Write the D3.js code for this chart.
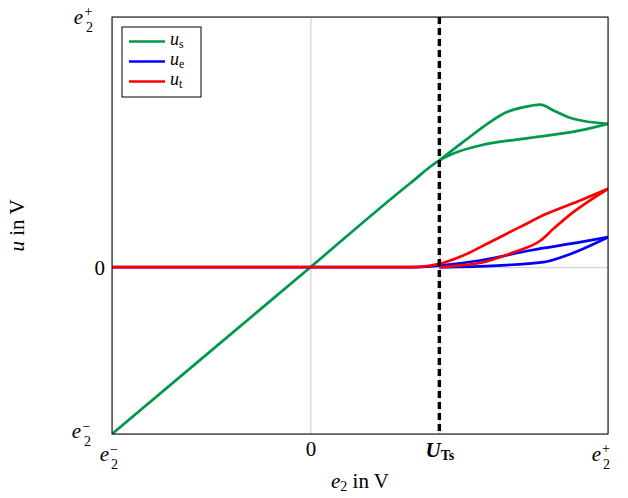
<!DOCTYPE html>
<html>
<head>
<meta charset="utf-8">
<script src="https://cdn.jsdelivr.net/npm/d3@7"></script>
<style>
  body { margin: 0; background: #fff; }
  text { font-family: "Liberation Serif", "DejaVu Serif", serif; fill: #000; }
</style>
</head>
<body>
<div id="chart-container"></div>
<script>
(function () {
    'use strict';

    // tick positions (in data units, e2- = -2, e2+ = 3)
    var xTicks = [-2, 0, 1.3, 3];
    var yTicks = [-2, 0, 3];
    var uTs = 1.3;

    // u_s
    var greenMainX = [-2, 0, 1.0, 1.3, 1.48, 1.71, 2.21, 2.72, 3.0];
    var greenMainY = [-2, 0, 1.0, 1.28, 1.38, 1.46, 1.55, 1.64, 1.72];
    var greenUpX = [1.3, 1.56, 1.81, 1.98, 2.15, 2.32, 2.45, 2.65, 3.0];
    var greenUpY = [1.28, 1.52, 1.74, 1.86, 1.92, 1.95, 1.88, 1.78, 1.72];

    // u_e
    var blueMainX = [-2, 0, 1.0, 1.3, 1.71, 2.21, 2.72, 3.0];
    var blueMainY = [0, 0, 0, 0.02, 0.08, 0.20, 0.30, 0.36];
    var blueLowX = [1.3, 1.88, 2.35, 2.58, 3.0];
    var blueLowY = [0, 0.02, 0.06, 0.14, 0.36];

    // u_t
    var redMainX = [-2, 0, 0.9, 1.1, 1.3, 1.54, 1.81, 2.11, 2.38, 2.72, 3.0];
    var redMainY = [0, 0, 0, 0.005, 0.04, 0.14, 0.30, 0.48, 0.64, 0.80, 0.94];
    var redLowX = [1.3, 1.5, 1.71, 2.05, 2.32, 2.45, 2.65, 3.0];
    var redLowY = [0, 0.02, 0.05, 0.18, 0.32, 0.46, 0.66, 0.94];

    var width = 628;
    var height = 498;
    var margin = {top: 17, right: 20, bottom: 64, left: 112};
    var w = width - margin.left - margin.right;
    var h = height - margin.top - margin.bottom;

    var green = '#00994c';
    var blue = '#0000ff';
    var red = '#ff0000';
    var fs = 21;
    var ss = 14;

    var x = d3.scaleLinear().domain([-2, 3]).range([0, w]);
    var y = d3.scaleLinear().domain([-2, 3]).range([h, 0]);

    var svg = d3.select('#chart-container')
        .append('svg')
        .attr('width', width)
        .attr('height', height);

    var g = svg.append('g')
        .attr('transform', 'translate(' + margin.left + ',' + margin.top + ')');

    // grid
    g.append('g')
        .attr('transform', 'translate(0,' + h + ')')
        .call(d3.axisBottom(x).tickValues(xTicks).tickSize(-h).tickFormat(''))
        .call(function (a) {
            a.select('.domain').remove();
            a.selectAll('line').attr('stroke', '#c8c8c8').attr('stroke-width', 1);
        });
    g.append('g')
        .call(d3.axisLeft(y).tickValues(yTicks).tickSize(-w).tickFormat(''))
        .call(function (a) {
            a.select('.domain').remove();
            a.selectAll('line').attr('stroke', '#c8c8c8').attr('stroke-width', 1);
        });

    function zip(xs, ys) {
        return xs.map(function (v, i) { return [v, ys[i]]; });
    }

    var line = d3.line()
        .x(function (d) { return x(d[0]); })
        .y(function (d) { return y(d[1]); })
        .curve(d3.curveMonotoneX);

    var series = [
        {color: green, parts: [zip(greenMainX, greenMainY), zip(greenUpX, greenUpY)]},
        {color: blue, parts: [zip(blueMainX, blueMainY), zip(blueLowX, blueLowY)]},
        {color: red, parts: [zip(redMainX, redMainY), zip(redLowX, redLowY)]}
    ];

    g.append('defs').append('clipPath').attr('id', 'clip')
        .append('rect').attr('width', w).attr('height', h);

    var plot = g.append('g').attr('clip-path', 'url(#clip)');
    series.forEach(function (s) {
        s.parts.forEach(function (p) {
            plot.append('path')
                .attr('d', line(p))
                .attr('fill', 'none')
                .attr('stroke', s.color)
                .attr('stroke-width', 2.7)
                .attr('stroke-linejoin', 'round');
        });
    });

    // threshold line
    g.append('line')
        .attr('x1', x(uTs)).attr('x2', x(uTs))
        .attr('y1', 0).attr('y2', h)
        .attr('stroke', '#000')
        .attr('stroke-width', 3.4)
        .attr('stroke-dasharray', '7,4');

    // frame
    g.append('rect')
        .attr('width', w).attr('height', h)
        .attr('fill', 'none')
        .attr('stroke', '#000')
        .attr('stroke-width', 1);

    // e2 with stacked sub/superscript
    function e2(sel, sign, anchor) {
        var t = sel.append('g');
        var offs = anchor === 'end' ? -21 : (anchor === 'middle' ? -10 : 0);
        t.append('text').attr('x', offs).attr('y', 0)
            .attr('font-size', fs).attr('font-style', 'italic').text('e');
        t.append('text').attr('x', offs + 9.5).attr('y', sign === '+' ? -8 : -7)
            .attr('font-size', ss).text(sign === '+' ? '+' : '\u2212');
        t.append('text').attr('x', offs + 10).attr('y', 8)
            .attr('font-size', ss).text('2');
        return t;
    }

    // x axis labels
    var xAxis = g.append('g')
        .attr('transform', 'translate(0,' + h + ')')
        .call(d3.axisBottom(x).tickValues(xTicks).tickSize(0).tickFormat(''));
    xAxis.select('.domain').remove();
    xAxis.selectAll('.tick').each(function (d) {
        var t = d3.select(this);
        t.select('text').remove();
        if (d === -2) {
            e2(t, '\u2212', 'middle').attr('transform', 'translate(2,27)');
        } else if (d === 3) {
            e2(t, '+', 'middle').attr('transform', 'translate(-2,27)');
        } else if (d === 0) {
            t.append('text').attr('y', 22).attr('text-anchor', 'middle')
                .attr('font-size', fs).text('0');
        } else {
            var lab = t.append('text').attr('y', 23).attr('text-anchor', 'middle')
                .attr('font-size', fs);
            lab.append('tspan').attr('font-weight', 'bold').attr('font-style', 'italic').text('U');
            lab.append('tspan').attr('font-weight', 'bold').attr('font-size', ss)
                .attr('dy', 3).text('Ts');
        }
    });

    // y axis labels
    var yAxis = g.append('g')
        .call(d3.axisLeft(y).tickValues(yTicks).tickSize(0).tickFormat(''));
    yAxis.select('.domain').remove();
    yAxis.selectAll('.tick').each(function (d) {
        var t = d3.select(this);
        t.select('text').remove();
        if (d === 0) {
            t.append('text').attr('x', -7).attr('y', 7).attr('text-anchor', 'end')
                .attr('font-size', fs).text('0');
        } else if (d === 3) {
            e2(t, '+', 'end').attr('transform', 'translate(-8,6)');
        } else {
            e2(t, '\u2212', 'end').attr('transform', 'translate(-10,3)');
        }
    });

    // axis titles
    var xt = svg.append('text')
        .attr('x', margin.left + w / 2)
        .attr('y', 488)
        .attr('text-anchor', 'middle')
        .attr('font-size', fs);
    xt.append('tspan').attr('font-style', 'italic').text('e');
    xt.append('tspan').attr('font-size', ss).attr('dy', 3).text('2');
    xt.append('tspan').attr('dy', -3).text(' in V');

    var yt = svg.append('text')
        .attr('transform', 'translate(24,' + (margin.top + h / 2) + ') rotate(-90)')
        .attr('text-anchor', 'middle')
        .attr('font-size', fs);
    yt.append('tspan').attr('font-style', 'italic').text('u');
    yt.append('tspan').text(' in V');

    // legend
    var names = ['s', 'e', 't'];
    var colors = [green, blue, red];
    var leg = svg.append('g').attr('transform', 'translate(122,27)');
    leg.append('rect')
        .attr('width', 79).attr('height', 70)
        .attr('fill', '#fff').attr('stroke', '#000').attr('stroke-width', 1);
    names.forEach(function (n, i) {
        var ly = 14.5 + i * 20;
        leg.append('line')
            .attr('x1', 7).attr('x2', 43)
            .attr('y1', ly).attr('y2', ly)
            .attr('stroke', colors[i]).attr('stroke-width', 2.7);
        var lt = leg.append('text').attr('x', 48).attr('y', ly + 3).attr('font-size', 18);
        lt.append('tspan').attr('font-style', 'italic').text('u');
        lt.append('tspan').attr('font-size', 12).attr('dy', 3).text(n);
    });
}());
</script>
</body>
</html>
